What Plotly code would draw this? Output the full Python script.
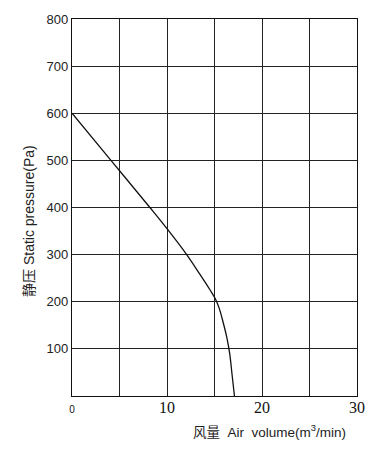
import plotly.graph_objects as go

# Data
air_volume = [0, 4.1, 8.2, 10, 12.07, 13.47, 14.5, 15.1, 15.5, 15.9, 16.3, 16.6, 16.85, 17.1]
static_pressure = [600, 500, 400, 355, 300, 258, 226, 206, 186, 157, 124, 90, 45, 0]

x_tickvals = [0, 10, 20, 30]
x_ticktext = ['<span style="font-family:Liberation Sans;font-size:10px">0</span>', '10', '20', '30']
y_tickvals = [100, 200, 300, 400, 500, 600, 700, 800]
y_ticktext = ['100', '200', '300', '400', '500', '600', '700', '800']

x_title = '风量  Air  volume(m<sup>3</sup>/min)'
y_title = '静压 Static pressure(Pa)'

fig = go.Figure()
fig.add_trace(go.Scatter(
    x=air_volume, y=static_pressure, mode='lines',
    line=dict(color='#111111', width=1.3, shape='spline', smoothing=1.0),
    showlegend=False, hoverinfo='skip'))

fig.update_layout(
    width=388, height=458,
    margin=dict(l=72, r=31, t=16, b=62),
    paper_bgcolor='white', plot_bgcolor='white',
    font=dict(family='Liberation Sans', color='#222222'),
    xaxis=dict(range=[0, 30], tickvals=x_tickvals, ticktext=x_ticktext,
               showgrid=True, gridcolor='#222222', gridwidth=1.2,
               minor=dict(tick0=0, dtick=5, showgrid=True, gridcolor='#222222', gridwidth=1.2, ticks=''),
               showline=True, linecolor='#111111', linewidth=1.3, mirror=True,
               zeroline=False, ticks='', ticklabelstandoff=-3,
               tickfont=dict(family='Liberation Serif', size=16, color='#111111'),
               fixedrange=True),
    yaxis=dict(range=[0, 800], tickvals=y_tickvals, ticktext=y_ticktext,
               showgrid=True, gridcolor='#222222', gridwidth=1.2,
               showline=True, linecolor='#111111', linewidth=1.3, mirror=True,
               zeroline=False, ticks='',
               tickfont=dict(family='Liberation Sans', size=13, color='#222222'),
               fixedrange=True),
    annotations=[
        dict(text=x_title, xref='paper', yref='paper', x=0.694, y=-0.094,
             xanchor='center', yanchor='middle', showarrow=False,
             font=dict(family='Liberation Sans, Noto Sans CJK SC', size=13.5, color='#222222')),
        dict(text=y_title, xref='paper', yref='paper', x=-0.149, y=0.463,
             xanchor='center', yanchor='middle', showarrow=False, textangle=-90,
             font=dict(family='Liberation Sans, Noto Sans CJK SC', size=14, color='#222222')),
    ],
)

fig.write_html('out.html')
